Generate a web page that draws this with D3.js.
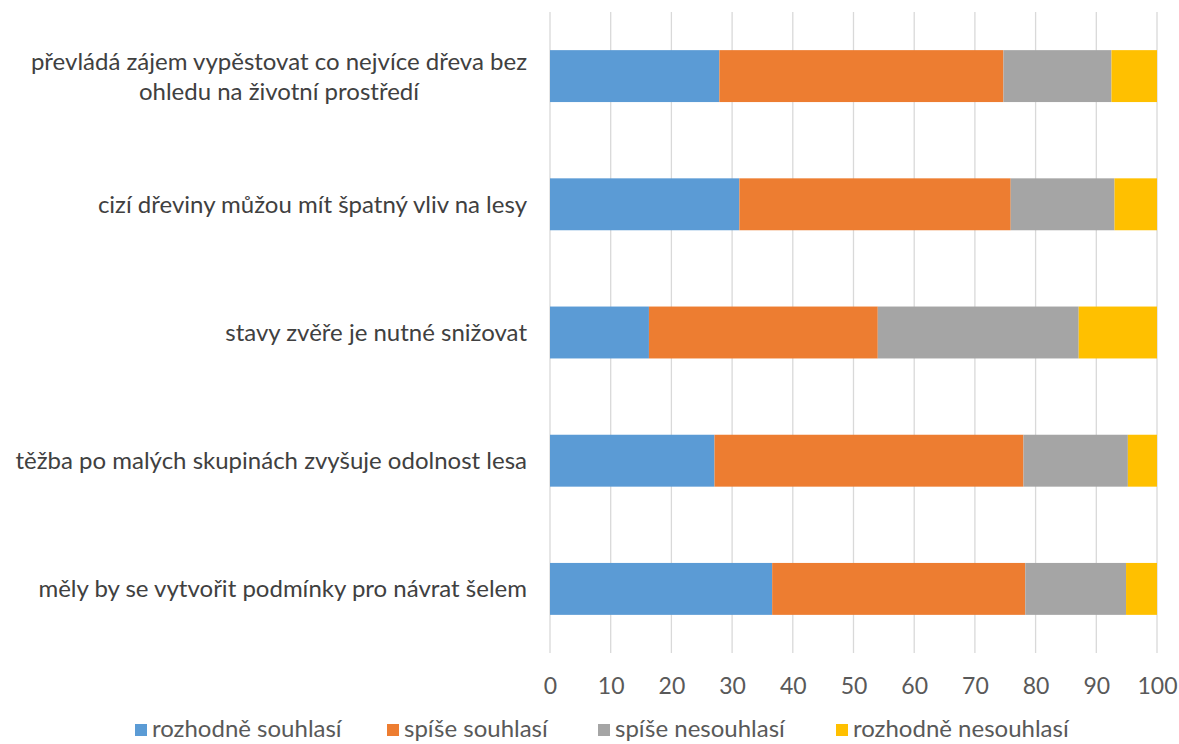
<!DOCTYPE html>
<html><head><meta charset="utf-8">
<script src="https://cdn.jsdelivr.net/npm/d3@7"></script>
<style>
html,body{margin:0;padding:0;background:#fff;}
svg text{font-family:Lato,"Open Sans",sans-serif;}
</style></head>
<body>
<svg id="chart" width="1179" height="744"></svg>
<script>
const categories = [
  ["převládá zájem vypěstovat co nejvíce dřeva bez", "ohledu na životní prostředí"],
  ["cizí dřeviny můžou mít špatný vliv na lesy"],
  ["stavy zvěře je nutné snižovat"],
  ["těžba po malých skupinách zvyšuje odolnost lesa"],
  ["měly by se vytvořit podmínky pro návrat šelem"]
];
const seriesNames = ["rozhodně souhlasí", "spíše souhlasí", "spíše nesouhlasí", "rozhodně nesouhlasí"];
const rozhodneSouhlasi   = [27.9, 31.2, 16.3, 27.1, 36.6];
const spiseSouhlasi      = [46.8, 44.7, 37.7, 50.9, 41.7];
const spiseNesouhlasi    = [17.8, 17.1, 33.1, 17.2, 16.6];
const rozhodneNesouhlasi = [7.5, 7.0, 12.9, 4.8, 5.1];
const xTicks = [0,10,20,30,40,50,60,70,80,90,100];
const colors = ["#5B9BD5", "#ED7D31", "#A5A5A5", "#FFC000"];

(function () {
const seriesVals = [rozhodneSouhlasi, spiseSouhlasi, spiseNesouhlasi, rozhodneNesouhlasi];
const rows = categories.map((c, i) => {
  const o = {idx: i};
  seriesNames.forEach((s, j) => o[s] = seriesVals[j][i]);
  return o;
});
const stack = d3.stack().keys(seriesNames)(rows);

const svg = d3.select("#chart");
const pLeft = 550, pRight = 1157, pTop = 12, pBottom = 653;
const x = d3.scaleLinear().domain([0, 100]).range([pLeft, pRight]);
const y = d3.scaleBand().domain(d3.range(categories.length)).range([pTop, pBottom]).paddingInner(0.595).paddingOuter(0.2975);

// gridlines
svg.append("g").selectAll("line").data(xTicks).join("line")
  .attr("x1", d => x(d)).attr("x2", d => x(d))
  .attr("y1", pTop).attr("y2", pBottom)
  .attr("stroke", "#D9D9D9").attr("stroke-width", 1.3);

// bars
svg.append("g").selectAll("g").data(stack).join("g")
  .attr("fill", (d, i) => colors[i])
  .selectAll("rect").data(d => d).join("rect")
  .attr("x", d => x(d[0]))
  .attr("width", d => x(d[1]) - x(d[0]))
  .attr("y", d => y(d.data.idx))
  .attr("height", y.bandwidth());

// x axis labels
const xAxis = d3.axisBottom(x).tickValues(xTicks).tickSize(0).tickPadding(0);
const gx = svg.append("g").attr("transform", `translate(0,${pBottom + 25})`).call(xAxis);
gx.select(".domain").remove();
gx.selectAll("text").attr("font-size", 23).attr("fill", "#595959")
  .attr("font-family", "Lato, 'Open Sans', sans-serif");

// category labels
const lab = svg.append("g").selectAll("text").data(categories).join("text")
  .attr("text-anchor", "middle")
  .attr("fill", "#404040")
  .attr("font-size", 24);
lab.each(function(lines, i) {
  const cy = y(i) + y.bandwidth() / 2;
  const lh = 30;
  const t = d3.select(this);
  lines.forEach((l, k) => {
    t.append("tspan").text(l)
      .attr("y", cy + (k - (lines.length - 1) / 2) * lh)
      .attr("dy", "0.35em");
  });
});
lab.each(function() {
  const t = d3.select(this);
  let maxW = 0;
  t.selectAll("tspan").each(function() { maxW = Math.max(maxW, this.getComputedTextLength()); });
  t.selectAll("tspan").attr("x", 527 - maxW / 2);
});

// legend
const legendX = [135, 387, 598, 836];
const lg = svg.append("g").selectAll("g").data(seriesNames).join("g")
  .attr("transform", (d, i) => `translate(${legendX[i]},729)`);
lg.append("rect").attr("x", 0).attr("y", -5).attr("width", 12).attr("height", 12)
  .attr("fill", (d, i) => colors[i]);
lg.append("text").attr("x", 17).attr("dy", "0.35em").attr("font-size", 24)
  .attr("fill", "#595959").text(d => d);
})();
</script>
</body></html>
